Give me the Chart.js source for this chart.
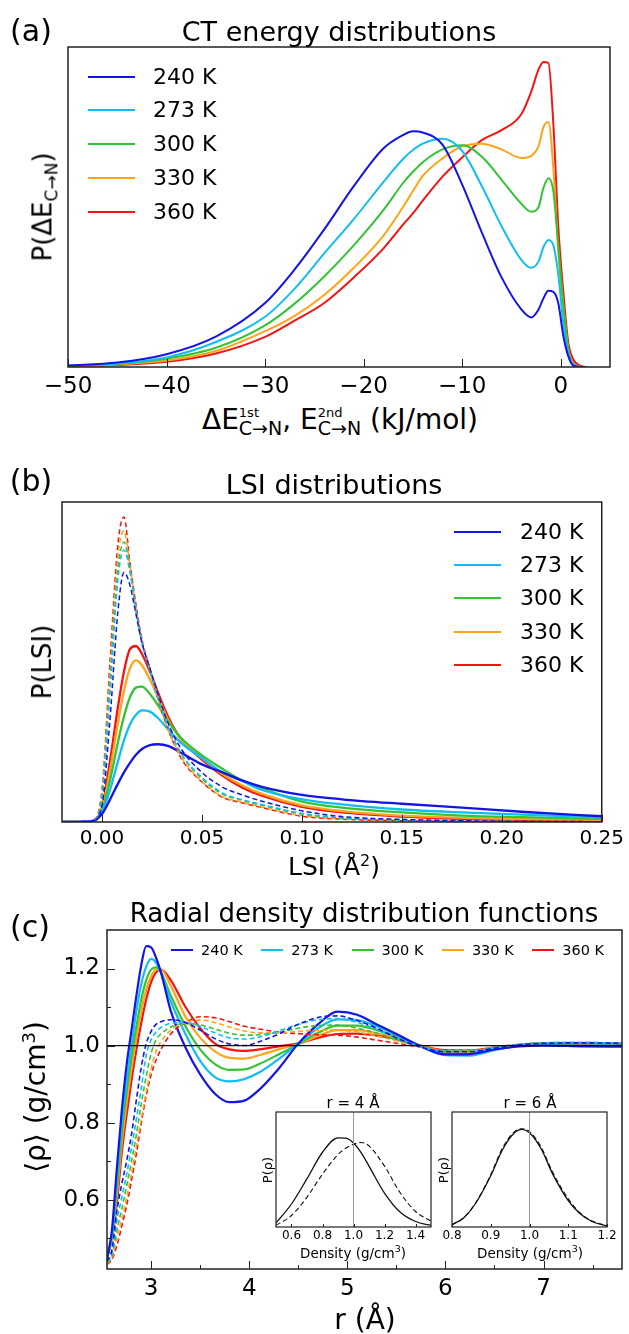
<!DOCTYPE html>
<html>
<head>
<meta charset="utf-8">
<script src="https://cdn.jsdelivr.net/npm/chart.js@4.4.0/dist/chart.umd.min.js"></script>
<style>
  body { margin: 0; background: #fff; }
  #fig { position: relative; width: 629px; height: 1334px; overflow: hidden; font-family: "DejaVu Sans", sans-serif; color: #000; }
  canvas { position: absolute; }
  .t { position: absolute; white-space: nowrap; line-height: 1; transform: translate(-50%, -50%); }
  .rot { transform: translate(-50%, -50%) rotate(-90deg); }
  .lg { position: absolute; height: 0; }
  .st { display: inline-block; vertical-align: -0.45em; line-height: 1; text-align: left; }
  .st span { display: block; }
</style>
</head>
<body>
<div id="fig">
  <canvas id="cA" width="629" height="400" style="left:0;top:0"></canvas>
  <canvas id="cB" width="629" height="375" style="left:0;top:480px"></canvas>
  <canvas id="cC" width="629" height="404" style="left:0;top:900px"></canvas>
  <canvas id="cI1" width="180" height="137" style="left:262px;top:1108px"></canvas>
  <canvas id="cI2" width="185" height="137" style="left:438px;top:1108px"></canvas>

  <div class="t" style="left:31px;top:31px;font-size:30px">(a)</div>
  <div class="t" style="left:339px;top:31px;font-size:27px">CT energy distributions</div>
  <div class="t rot" style="left:45px;top:207px;font-size:26px">P(ΔE<sub style="font-size:17px">C→N</sub>)</div>
  <div class="t" style="left:340px;top:422px;font-size:28px">ΔE<span class="st" style="font-size:13px"><span>1st</span><span style="font-size:19px">C→N</span></span>, E<span class="st" style="font-size:13px"><span>2nd</span><span style="font-size:19px">C→N</span></span> (kJ/mol)</div>

  <div class="t" style="left:31px;top:481px;font-size:30px">(b)</div>
  <div class="t" style="left:334px;top:484px;font-size:27px">LSI distributions</div>
  <div class="t rot" style="left:42px;top:662px;font-size:26px">P(LSI)</div>
  <div class="t" style="left:334px;top:866px;font-size:25px">LSI (Å<sup style="font-size:16px">2</sup>)</div>

  <div class="t" style="left:30px;top:927px;font-size:30px">(c)</div>
  <div class="t" style="left:364px;top:913px;font-size:26px">Radial density distribution functions</div>
  <div class="t rot" style="left:35px;top:1097px;font-size:28px">⟨ρ⟩ (g/cm<sup style="font-size:18px">3</sup>)</div>
  <div class="t" style="left:365px;top:1320px;font-size:28px">r (Å)</div>

  <div class="t" style="left:353px;top:1103px;font-size:15px">r = 4 Å</div>
  <div class="t" style="left:530px;top:1103px;font-size:15px">r = 6 Å</div>
  <div class="t" style="left:353px;top:1252px;font-size:13.5px">Density (g/cm<sup style="font-size:9.5px">3</sup>)</div>
  <div class="t" style="left:530px;top:1252px;font-size:13.5px">Density (g/cm<sup style="font-size:9.5px">3</sup>)</div>
  <div class="t rot" style="left:267px;top:1170px;font-size:13px">P(ρ)</div>
  <div class="t rot" style="left:443px;top:1170px;font-size:13px">P(ρ)</div>
</div>

<script>
const temps = ['240 K', '273 K', '300 K', '330 K', '360 K'];
const colors = ['#1414e6', '#12bdf5', '#33c433', '#ffa31a', '#f51414'];

// (a) CT energy distributions, kJ/mol
const ctX = [-50, -45, -40, -35, -30, -27, -24, -21, -18, -16, -15, -14, -12, -10, -8, -6, -4, -3, -2.25, -1.75, -1.25, -0.75, -0.25, 0.25, 0.75, 1.25, 2, 2.5];
const ct240 = [0.005, 0.014, 0.04, 0.095, 0.20, 0.305, 0.43, 0.565, 0.683, 0.725, 0.737, 0.733, 0.695, 0.57, 0.42, 0.28, 0.18, 0.155, 0.18, 0.215, 0.238, 0.235, 0.20, 0.10, 0.035, 0.005, 0, 0];
const ct273 = [0.004, 0.011, 0.03, 0.078, 0.157, 0.245, 0.355, 0.462, 0.578, 0.65, 0.678, 0.698, 0.713, 0.675, 0.565, 0.44, 0.335, 0.31, 0.33, 0.375, 0.397, 0.38, 0.29, 0.14, 0.045, 0.007, 0, 0];
const ct300 = [0.003, 0.01, 0.026, 0.06, 0.13, 0.198, 0.283, 0.38, 0.49, 0.575, 0.61, 0.64, 0.68, 0.693, 0.657, 0.585, 0.51, 0.485, 0.50, 0.56, 0.59, 0.55, 0.38, 0.2, 0.06, 0.01, 0, 0];
const ct330 = [0.002, 0.008, 0.02, 0.05, 0.112, 0.16, 0.225, 0.31, 0.41, 0.50, 0.55, 0.597, 0.652, 0.69, 0.698, 0.68, 0.653, 0.66, 0.69, 0.75, 0.766, 0.62, 0.36, 0.19, 0.06, 0.012, 0.001, 0];
const ct360 = [0.002, 0.006, 0.016, 0.042, 0.094, 0.145, 0.20, 0.28, 0.37, 0.445, 0.48, 0.52, 0.595, 0.655, 0.709, 0.74, 0.79, 0.86, 0.93, 0.953, 0.95, 0.76, 0.44, 0.24, 0.08, 0.025, 0.004, 0];
const ctTicks = [-50, -40, -30, -20, -10, 0];

// (b) LSI distributions: solid = 1st, dashed = reference
const lsiX = [-0.02, -0.005, 0, 0.004, 0.008, 0.011, 0.014, 0.017, 0.020, 0.024, 0.028, 0.033, 0.04, 0.05, 0.06, 0.07, 0.08, 0.10, 0.12, 0.15, 0.18, 0.21, 0.25];
const lsi240 = [0, 0.003, 0.025, 0.07, 0.12, 0.155, 0.185, 0.21, 0.228, 0.24, 0.243, 0.238, 0.215, 0.18, 0.156, 0.13, 0.11, 0.085, 0.071, 0.057, 0.045, 0.032, 0.018];
const lsi273 = [0, 0.003, 0.03, 0.10, 0.19, 0.255, 0.305, 0.335, 0.349, 0.345, 0.325, 0.29, 0.245, 0.20, 0.156, 0.128, 0.10, 0.071, 0.055, 0.039, 0.03, 0.023, 0.0135];
const lsi300 = [0, 0.003, 0.035, 0.13, 0.25, 0.33, 0.39, 0.42, 0.423, 0.40, 0.365, 0.315, 0.26, 0.208, 0.167, 0.13, 0.105, 0.064, 0.045, 0.03, 0.02, 0.015, 0.01];
const lsi330 = [0, 0.003, 0.04, 0.16, 0.31, 0.41, 0.48, 0.505, 0.49, 0.445, 0.39, 0.32, 0.255, 0.2, 0.151, 0.115, 0.088, 0.052, 0.034, 0.02, 0.013, 0.009, 0.007];
const lsi360 = [0, 0.003, 0.045, 0.19, 0.36, 0.47, 0.54, 0.55, 0.525, 0.47, 0.405, 0.33, 0.255, 0.195, 0.146, 0.108, 0.082, 0.047, 0.03, 0.017, 0.01, 0.007, 0.005];
const lsiRef240 = [0, 0.003, 0.05, 0.32, 0.66, 0.78, 0.74, 0.65, 0.56, 0.48, 0.40, 0.31, 0.225, 0.155, 0.11, 0.085, 0.065, 0.035, 0.017, 0.008, 0.004, 0.002, 0.001];
const lsiRef273 = [0, 0.004, 0.07, 0.40, 0.76, 0.85, 0.78, 0.66, 0.56, 0.475, 0.39, 0.30, 0.21, 0.14, 0.092, 0.07, 0.055, 0.027, 0.013, 0.006, 0.003, 0.001, 0];
const lsiRef300 = [0, 0.004, 0.08, 0.43, 0.79, 0.875, 0.79, 0.665, 0.56, 0.475, 0.39, 0.30, 0.21, 0.135, 0.088, 0.068, 0.052, 0.025, 0.012, 0.006, 0.003, 0.001, 0];
const lsiRef330 = [0, 0.004, 0.09, 0.46, 0.83, 0.91, 0.80, 0.67, 0.565, 0.475, 0.385, 0.29, 0.20, 0.127, 0.08, 0.062, 0.047, 0.02, 0.01, 0.005, 0.002, 0.001, 0];
const lsiRef360 = [0, 0.005, 0.10, 0.50, 0.87, 0.953, 0.81, 0.68, 0.57, 0.48, 0.385, 0.29, 0.195, 0.125, 0.078, 0.06, 0.045, 0.018, 0.009, 0.004, 0.002, 0.001, 0];
const lsiTicks = [0, 0.05, 0.10, 0.15, 0.20, 0.25];

// (c) radial density, r in Å, rho in g/cm3
const rX = [2.55, 2.6, 2.65, 2.7, 2.75, 2.8, 2.85, 2.9, 2.95, 3.0, 3.05, 3.1, 3.2, 3.35, 3.5, 3.65, 3.8, 3.95, 4.1, 4.3, 4.5, 4.7, 4.9, 5.1, 5.3, 5.5, 5.75, 6.0, 6.25, 6.5, 6.75, 7.0, 7.4, 7.8];
const rho240 = [0.445, 0.52, 0.68, 0.83, 0.95, 1.04, 1.13, 1.21, 1.258, 1.255, 1.228, 1.19, 1.09, 0.995, 0.925, 0.875, 0.853, 0.857, 0.885, 0.94, 1.005, 1.055, 1.088, 1.08, 1.055, 1.03, 0.998, 0.977, 0.978, 0.99, 0.998, 1.0, 0.998, 0.997];
const rho273 = [0.447, 0.51, 0.655, 0.8, 0.91, 1.0, 1.09, 1.16, 1.205, 1.225, 1.215, 1.19, 1.115, 1.03, 0.96, 0.918, 0.907, 0.913, 0.93, 0.965, 1.005, 1.045, 1.068, 1.066, 1.05, 1.028, 0.998, 0.975, 0.974, 0.988, 1.0, 1.005, 1.006, 1.004];
const rho300 = [0.448, 0.505, 0.63, 0.77, 0.88, 0.97, 1.05, 1.12, 1.17, 1.197, 1.203, 1.19, 1.13, 1.05, 0.99, 0.952, 0.937, 0.938, 0.952, 0.977, 1.003, 1.033, 1.052, 1.052, 1.04, 1.024, 0.998, 0.98, 0.978, 0.99, 1.0, 1.005, 1.006, 1.004];
const rho330 = [0.45, 0.5, 0.61, 0.745, 0.85, 0.94, 1.02, 1.09, 1.145, 1.18, 1.197, 1.198, 1.155, 1.075, 1.02, 0.985, 0.968, 0.966, 0.975, 0.99, 1.004, 1.025, 1.04, 1.04, 1.032, 1.02, 0.999, 0.984, 0.982, 0.992, 1.0, 1.005, 1.006, 1.004];
const rho360 = [0.455, 0.5, 0.59, 0.72, 0.82, 0.91, 0.99, 1.06, 1.12, 1.165, 1.19, 1.197, 1.17, 1.1, 1.045, 1.005, 0.99, 0.986, 0.99, 0.998, 1.006, 1.02, 1.03, 1.031, 1.026, 1.017, 1.0, 0.988, 0.987, 0.995, 1.0, 1.004, 1.005, 1.003];
const rhoRef240 = [0.44, 0.47, 0.57, 0.64, 0.70, 0.77, 0.86, 0.945, 1.005, 1.037, 1.055, 1.062, 1.067, 1.06, 1.04, 1.018, 1.004, 1.0, 1.01, 1.03, 1.055, 1.073, 1.077, 1.065, 1.045, 1.02, 0.996, 0.984, 0.984, 0.993, 1.002, 1.006, 1.007, 1.006];
const rhoRef273 = [0.438, 0.46, 0.545, 0.605, 0.665, 0.735, 0.81, 0.89, 0.975, 1.015, 1.035, 1.047, 1.058, 1.06, 1.05, 1.033, 1.02, 1.017, 1.022, 1.038, 1.055, 1.067, 1.07, 1.06, 1.042, 1.02, 0.997, 0.985, 0.985, 0.994, 1.003, 1.007, 1.008, 1.006];
const rhoRef300 = [0.436, 0.455, 0.52, 0.575, 0.635, 0.70, 0.77, 0.85, 0.92, 0.98, 1.015, 1.03, 1.048, 1.057, 1.054, 1.043, 1.032, 1.027, 1.028, 1.035, 1.045, 1.052, 1.053, 1.045, 1.032, 1.015, 0.997, 0.986, 0.986, 0.994, 1.003, 1.007, 1.008, 1.006];
const rhoRef330 = [0.434, 0.45, 0.5, 0.55, 0.605, 0.67, 0.74, 0.81, 0.88, 0.94, 0.985, 1.01, 1.04, 1.06, 1.066, 1.06, 1.048, 1.038, 1.033, 1.033, 1.037, 1.04, 1.04, 1.035, 1.025, 1.012, 0.997, 0.987, 0.987, 0.995, 1.003, 1.007, 1.008, 1.006];
const rhoRef360 = [0.432, 0.445, 0.48, 0.53, 0.585, 0.65, 0.72, 0.8, 0.87, 0.925, 0.962, 0.99, 1.03, 1.06, 1.075, 1.072, 1.062, 1.05, 1.043, 1.035, 1.031, 1.028, 1.027, 1.022, 1.014, 1.006, 0.996, 0.988, 0.988, 0.996, 1.003, 1.006, 1.007, 1.005];
const rTicks = [3, 4, 5, 6, 7];
const rMinor = [3.5, 4.5, 5.5, 6.5, 7.5];
const rhoTicks = [0.6, 0.8, 1.0, 1.2];
const rhoMinor = [0.5, 0.7, 0.9, 1.1];

// insets: density distributions at r = 4 and r = 6 (solid = 1st, dashed = reference)
const d4X = [0.5, 0.6, 0.7, 0.8, 0.9, 0.95, 1.0, 1.05, 1.1, 1.2, 1.3, 1.4, 1.5];
const d4 = [0.035, 0.2, 0.42, 0.65, 0.775, 0.772, 0.73, 0.645, 0.53, 0.295, 0.13, 0.048, 0.014];
const d4Ref = [0.014, 0.1, 0.26, 0.46, 0.63, 0.685, 0.72, 0.735, 0.705, 0.53, 0.3, 0.135, 0.05];
const d4Ticks = [0.6, 0.8, 1.0, 1.2, 1.4];
const d6X = [0.8, 0.83, 0.86, 0.9, 0.93, 0.96, 0.98, 1.0, 1.03, 1.06, 1.1, 1.13, 1.16, 1.2];
const d6 = [0.02, 0.079, 0.2, 0.445, 0.67, 0.815, 0.849, 0.82, 0.68, 0.46, 0.23, 0.117, 0.05, 0.009];
const d6Ref = [0.02, 0.08, 0.205, 0.455, 0.685, 0.825, 0.855, 0.83, 0.695, 0.475, 0.245, 0.125, 0.055, 0.01];
const d6Ticks = [0.8, 0.9, 1.0, 1.1, 1.2];

const pts = (xs, ys) => xs.map((x, i) => ({ x: x, y: ys[i] }));
const minus = s => String(s).replace('-', '\u2212');

// frame + inward tick marks, drawn from the chart's own scales
const frameTicks = {
  id: 'frameTicks',
  beforeDatasetsDraw(chart, args, o) {
    if (!o.fill) return;
    const a = chart.chartArea, ctx = chart.ctx;
    ctx.save(); ctx.fillStyle = '#fff';
    ctx.fillRect(a.left, a.top, a.right - a.left, a.bottom - a.top);
    ctx.restore();
  },
  afterDraw(chart, args, o) {
    const { ctx, chartArea: a } = chart;
    const sx = chart.scales.x, sy = chart.scales.y;
    ctx.save();
    ctx.strokeStyle = '#222';
    ctx.lineWidth = o.lw || 1;
    const mark = (scale, vals, len, horiz) => (vals || []).forEach(v => {
      const p = Math.round(scale.getPixelForValue(v)) + 0.5;
      ctx.beginPath();
      if (horiz) { ctx.moveTo(p, a.bottom); ctx.lineTo(p, a.bottom - len); }
      else { ctx.moveTo(a.left, p); ctx.lineTo(a.left + len, p); }
      ctx.stroke();
    });
    mark(sx, o.xMajor, o.len || 8, true);
    mark(sx, o.xMinor, (o.len || 8) / 2, true);
    mark(sy, o.yMajor, o.len || 8, false);
    mark(sy, o.yMinor, (o.len || 8) / 2, false);
    ctx.lineWidth = o.frame || 1.5;
    ctx.strokeRect(a.left, a.top, a.right - a.left, a.bottom - a.top);
    ctx.restore();
  }
};
Chart.register(frameTicks);

function lineSet(xs, ys, color, dashed, width) {
  return {
    data: pts(xs, ys), borderColor: color, borderWidth: width, borderDash: dashed ? [5, 3] : [],
    pointRadius: 0, fill: false, cubicInterpolationMode: 'monotone'
  };
}

function panel(id, datasets, o) {
  return new Chart(document.getElementById(id), {
    type: 'line',
    data: { datasets: datasets },
    options: {
      responsive: false, animation: false, devicePixelRatio: 1,
      layout: { padding: o.pad },
      plugins: { legend: { display: false }, tooltip: { enabled: false }, frameTicks: o.marks },
      scales: {
        x: {
          type: 'linear', min: o.xMin, max: o.xMax,
          grid: { display: false, drawTicks: false }, border: { display: false },
          afterBuildTicks: s => { s.ticks = o.xTicks.map(v => ({ value: v })); },
          afterFit: s => { s.height = o.xH; },
          ticks: { padding: o.xPad, font: { family: 'DejaVu Sans', size: o.xFont }, color: '#000',
                   maxRotation: 0, autoSkip: false, callback: o.xFmt }
        },
        y: {
          type: 'linear', min: o.yMin, max: o.yMax, display: o.yTicks ? true : false,
          grid: { display: false, drawTicks: false }, border: { display: false },
          afterBuildTicks: s => { if (o.yTicks) s.ticks = o.yTicks.map(v => ({ value: v })); },
          afterFit: s => { s.width = o.yW || 0; },
          ticks: { padding: 7, font: { family: 'DejaVu Sans', size: o.yFont || 12 }, color: '#000',
                   autoSkip: false, callback: v => v.toFixed(1) }
        }
      }
    }
  });
}

// panel (a)
const ctSeries = [ct240, ct273, ct300, ct330, ct360];
panel('cA', ctSeries.map((s, i) => lineSet(ctX, s, colors[i], false, 2)), {
  pad: { left: 68, top: 47, right: 19, bottom: 0 }, xMin: -50, xMax: 5, yMin: 0, yMax: 1,
  xTicks: ctTicks, xH: 33, xPad: 6, xFont: 23, xFmt: v => minus(v),
  marks: { xMajor: ctTicks, len: 8 }
});

// panel (b)
const lsiSeries = [lsi240, lsi273, lsi300, lsi330, lsi360];
const lsiRefSeries = [lsiRef240, lsiRef273, lsiRef300, lsiRef330, lsiRef360];
panel('cB', lsiRefSeries.map((s, i) => lineSet(lsiX, s, colors[i], true, 1.5))
  .concat(lsiSeries.map((s, i) => lineSet(lsiX, s, colors[i], false, 2.3))), {
  pad: { left: 62, top: 22, right: 23, bottom: 0 }, xMin: -0.02, xMax: 0.25, yMin: 0, yMax: 1,
  xTicks: lsiTicks, xH: 33, xPad: 5, xFont: 20, xFmt: v => v.toFixed(2),
  marks: { xMajor: lsiTicks, len: 7 }
});

// panel (c)
const rhoSeries = [rho240, rho273, rho300, rho330, rho360];
const rhoRefSeries = [rhoRef240, rhoRef273, rhoRef300, rhoRef330, rhoRef360];
const unity = { data: [{ x: 2.55, y: 1 }, { x: 7.8, y: 1 }], borderColor: '#111', borderWidth: 1.2, pointRadius: 0 };
panel('cC', [unity].concat(rhoRefSeries.map((s, i) => lineSet(rX, s, colors[i], true, 1.6)))
  .concat(rhoSeries.map((s, i) => lineSet(rX, s, colors[i], false, 2.2))), {
  pad: { left: 0, top: 30, right: 7, bottom: 0 }, xMin: 2.55, xMax: 7.8, yMin: 0.42, yMax: 1.3,
  xTicks: rTicks, xH: 35, xPad: 6, xFont: 23, xFmt: v => String(v),
  yTicks: rhoTicks, yW: 107, yFont: 23,
  marks: { xMajor: rTicks, xMinor: rMinor, yMajor: rhoTicks, yMinor: rhoMinor, len: 8 }
});

// insets
const vline = { data: [{ x: 1, y: 0 }, { x: 1, y: 1 }], borderColor: '#999', borderWidth: 1, pointRadius: 0 };
panel('cI1', [vline, lineSet(d4X, d4Ref, '#111', true, 1.1), lineSet(d4X, d4, '#111', false, 1.3)], {
  pad: { left: 0, top: 4, right: 11, bottom: 0 }, xMin: 0.5, xMax: 1.5, yMin: 0, yMax: 1,
  xTicks: d4Ticks, xH: 18, xPad: 2, xFont: 12, xFmt: v => v.toFixed(1), yW: 14,
  marks: { xMajor: d4Ticks, len: 3, frame: 1.2, fill: true }
});
panel('cI2', [vline, lineSet(d6X, d6Ref, '#111', true, 1.1), lineSet(d6X, d6, '#111', false, 1.3)], {
  pad: { left: 0, top: 4, right: 16, bottom: 0 }, xMin: 0.8, xMax: 1.2, yMin: 0, yMax: 1,
  xTicks: d6Ticks, xH: 18, xPad: 2, xFont: 12, xFmt: v => v.toFixed(1), yW: 14,
  marks: { xMajor: d6Ticks, len: 3, frame: 1.2, fill: true }
});

// legends built from the temperature list
const fig = document.getElementById('fig');
function legend(x0, rows, lineLen, textGap, font, horizontalStep) {
  temps.forEach((label, i) => {
    const lx = horizontalStep ? x0 + i * horizontalStep : x0;
    const ly = horizontalStep ? rows : rows[i];
    const ln = document.createElement('div');
    ln.className = 'lg';
    ln.style.cssText = 'left:' + lx + 'px;top:' + (ly - 1.25) + 'px;width:' + lineLen + 'px;border-top:2.5px solid ' + colors[i];
    fig.appendChild(ln);
    const tx = document.createElement('div');
    tx.className = 't';
    tx.style.cssText = 'left:' + (lx + lineLen + textGap) + 'px;top:' + ly + 'px;font-size:' + font + 'px;transform:translate(0,-50%)';
    tx.textContent = label;
    fig.appendChild(tx);
  });
}
legend(88, [77, 110, 144, 178, 212], 47, 18, 22);
legend(454, [532, 565, 598, 632, 665], 47, 19, 22);
legend(171, 950, 22, 8, 14.5, 90.3);
</script>
</body>
</html>
